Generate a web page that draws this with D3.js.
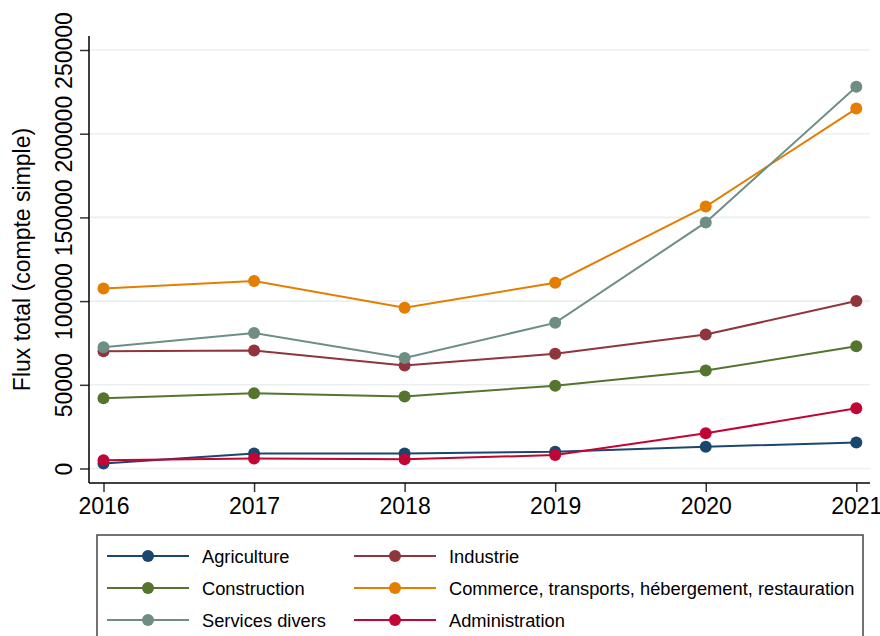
<!DOCTYPE html>
<html>
<head>
<meta charset="utf-8">
<script src="https://cdn.jsdelivr.net/npm/d3@7"></script>
<style>
  html, body { margin: 0; padding: 0; background: #fff; }
  svg { display: block; font-family: "Liberation Sans", Arial, sans-serif; }
</style>
</head>
<body>
<svg id="chart" width="880" height="636"></svg>
<script>
// Years on the horizontal axis
const years = [2016, 2017, 2018, 2019, 2020, 2021];

// Sector names (legend order, row by row)
const sectors = [
  "Agriculture",
  "Industrie",
  "Construction",
  "Commerce, transports, hébergement, restauration",
  "Services divers",
  "Administration"
];

// Flux total (compte simple) per sector and year
const agriculture    = [3000, 9000, 9000, 10000, 13000, 15500];
const industrie      = [70000, 70500, 61500, 68500, 80000, 100000];
const construction   = [42000, 45000, 43000, 49500, 58500, 73000];
const commerce       = [107500, 112000, 96000, 111000, 156500, 215000];
const servicesDivers = [72500, 81000, 66000, 87000, 147000, 228000];
const administration = [5000, 6000, 5500, 8000, 21000, 36000];

const seriesValues = [agriculture, industrie, construction, commerce, servicesDivers, administration];
const colors = ["#1a476f", "#90353b", "#55752f", "#e37e00", "#6e8e84", "#c10534"];

const yTicks = [0, 50000, 100000, 150000, 200000, 250000];

const svg = d3.select("#chart");

const plot = { left: 89, right: 870, top: 36, bottom: 483 };

const x = d3.scaleLinear().domain([2016, 2021]).range([103.5, 856.3]);
const y = d3.scaleLinear().domain([0, 250000]).range([468.5, 50]);

// Gridlines
svg.append("g")
  .selectAll("line")
  .data(yTicks)
  .join("line")
  .attr("x1", plot.left)
  .attr("x2", plot.right)
  .attr("y1", d => y(d))
  .attr("y2", d => y(d))
  .attr("stroke", "#eaf0f2")
  .attr("stroke-width", 1.6);

// Y axis
const yAxis = svg.append("g")
  .attr("transform", `translate(${plot.left},0)`)
  .call(d3.axisLeft(y).tickValues(yTicks).tickSize(9).tickSizeOuter(0).tickFormat(d3.format("d")));
yAxis.select(".domain").remove();
yAxis.append("line")
  .attr("x1", 0).attr("x2", 0)
  .attr("y1", plot.top).attr("y2", plot.bottom)
  .attr("stroke", "#000").attr("stroke-width", 1.5);
yAxis.selectAll(".tick line").attr("stroke", "#333").attr("stroke-width", 1.5);
yAxis.selectAll(".tick text")
  .attr("x", null).attr("dy", null)
  .attr("fill", "#000")
  .style("font-size", "23px")
  .attr("text-anchor", "middle")
  .attr("transform", "translate(-17,0) rotate(-90)");

// X axis
const xAxis = svg.append("g")
  .attr("transform", `translate(0,${plot.bottom})`)
  .call(d3.axisBottom(x).tickValues(years).tickSize(9).tickSizeOuter(0).tickFormat(d3.format("d")));
xAxis.select(".domain").remove();
xAxis.append("line")
  .attr("x1", plot.left).attr("x2", plot.right)
  .attr("y1", 0).attr("y2", 0)
  .attr("stroke", "#000").attr("stroke-width", 1.5);
xAxis.selectAll(".tick line").attr("stroke", "#333").attr("stroke-width", 1.5);
xAxis.selectAll(".tick text")
  .attr("y", 31).attr("dy", null)
  .attr("fill", "#000")
  .style("font-size", "23px");

// Y axis title
svg.append("text")
  .attr("transform", `translate(30,${(plot.top + plot.bottom) / 2}) rotate(-90)`)
  .attr("text-anchor", "middle")
  .style("font-size", "23px")
  .attr("fill", "#000")
  .text("Flux total (compte simple)");

// Lines and markers
const line = d3.line()
  .x((d, i) => x(years[i]))
  .y(d => y(d));

seriesValues.forEach((vals, s) => {
  const g = svg.append("g");
  g.append("path")
    .attr("d", line(vals))
    .attr("fill", "none")
    .attr("stroke", colors[s])
    .attr("stroke-width", 2);
  g.selectAll("circle")
    .data(vals)
    .join("circle")
    .attr("cx", (d, i) => x(years[i]))
    .attr("cy", d => y(d))
    .attr("r", 6)
    .attr("fill", colors[s]);
});

// Legend
const legend = svg.append("g");
legend.append("rect")
  .attr("x", 97).attr("y", 535)
  .attr("width", 766).attr("height", 120)
  .attr("fill", "#fff")
  .attr("stroke", "#444")
  .attr("stroke-width", 1.5);

const colX = [{ x1: 107, x2: 189, text: 202 }, { x1: 354, x2: 436, text: 449 }];
const rowY = [556, 588, 620];

sectors.forEach((name, i) => {
  const c = colX[i % 2];
  const ry = rowY[Math.floor(i / 2)];
  const item = legend.append("g");
  item.append("line")
    .attr("x1", c.x1).attr("x2", c.x2)
    .attr("y1", ry).attr("y2", ry)
    .attr("stroke", colors[i])
    .attr("stroke-width", 2);
  item.append("circle")
    .attr("cx", (c.x1 + c.x2) / 2)
    .attr("cy", ry)
    .attr("r", 6)
    .attr("fill", colors[i]);
  item.append("text")
    .attr("x", c.text)
    .attr("y", ry + 6.5)
    .style("font-size", "18.3px")
    .attr("fill", "#000")
    .text(name);
});
</script>
</body>
</html>
